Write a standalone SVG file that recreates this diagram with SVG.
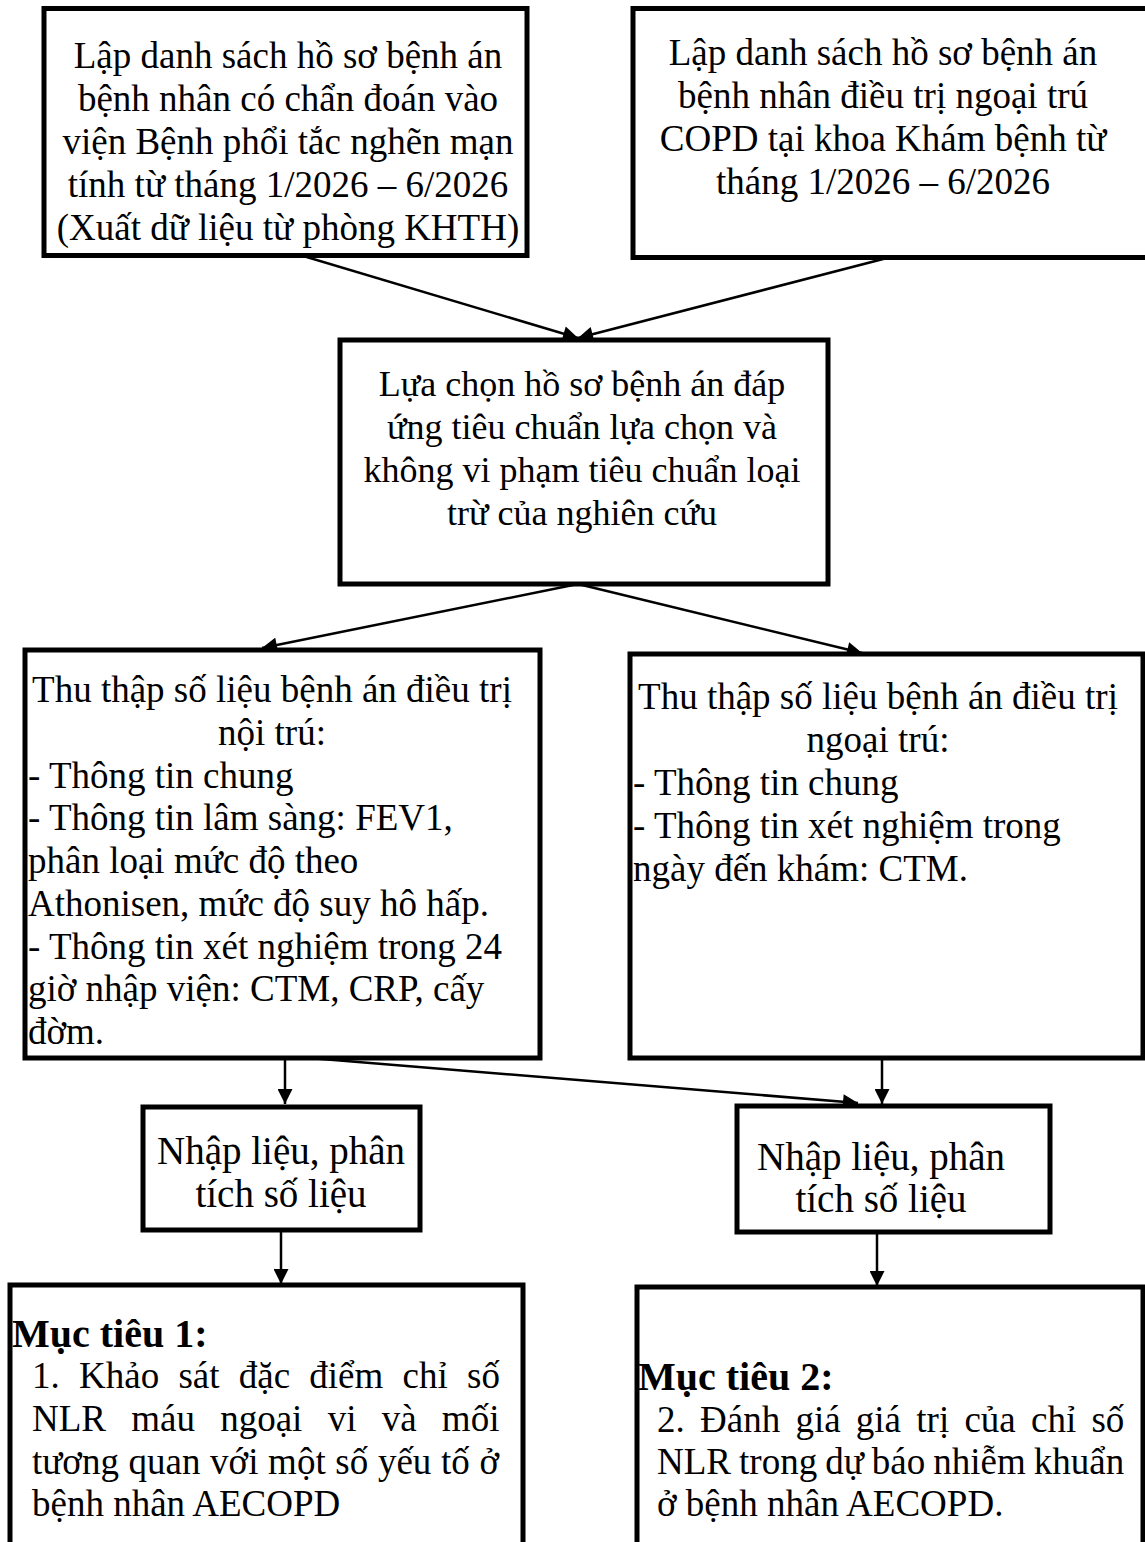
<svg xmlns="http://www.w3.org/2000/svg" width="1145" height="1542" viewBox="0 0 1145 1542">
<style>
.box{fill:#fff;stroke:#000;stroke-width:5}
.t{font-family:"Liberation Serif","Times New Roman",serif;font-size:37px;fill:#000}
.s36{font-size:36px}
.s39{font-size:39px}
.c{text-anchor:middle}
.b{font-weight:bold;font-size:40px}
.conn{stroke:#000;stroke-width:2.5;fill:none;marker-end:url(#ah)}
</style>
<defs>
<marker id="ah" viewBox="0 0 10 10" refX="10" refY="5" markerWidth="7" markerHeight="6" markerUnits="strokeWidth" orient="auto">
<path d="M0,0 L10,5 L0,10 Z" fill="#000"/>
</marker>
</defs>
<rect width="1145" height="1542" fill="#fff"/>
<g id="connectors">
<line class="conn" x1="300" y1="255" x2="578" y2="338"/>
<line class="conn" x1="887" y1="258" x2="578" y2="338"/>
<line class="conn" x1="578" y1="584" x2="262" y2="648"/>
<line class="conn" x1="578" y1="584" x2="862" y2="653"/>
<line class="conn" x1="285" y1="1058" x2="285" y2="1104"/>
<line class="conn" x1="285" y1="1056" x2="858" y2="1103"/>
<line class="conn" x1="882" y1="1058" x2="882" y2="1104"/>
<line class="conn" x1="281" y1="1230" x2="281" y2="1284"/>
<line class="conn" x1="877" y1="1232" x2="877" y2="1286"/>
</g>
<g id="n1">
<rect class="box" x="44" y="8.5" width="483" height="247"/>
<text class="t c" x="288" y="68">Lập danh sách hồ sơ bệnh án</text>
<text class="t c" x="288" y="111">bệnh nhân có chẩn đoán vào</text>
<text class="t c" x="288" y="154">viện Bệnh phổi tắc nghẽn mạn</text>
<text class="t c" x="288" y="197">tính từ tháng 1/2026 – 6/2026</text>
<text class="t c" x="288" y="240">(Xuất dữ liệu từ phòng KHTH)</text>
</g>
<g id="n2">
<rect class="box" x="633" y="8.5" width="520" height="249"/>
<text class="t c" x="883" y="65">Lập danh sách hồ sơ bệnh án</text>
<text class="t c" x="883" y="108">bệnh nhân điều trị ngoại trú</text>
<text class="t c" x="883" y="151">COPD tại khoa Khám bệnh từ</text>
<text class="t c" x="883" y="194">tháng 1/2026 – 6/2026</text>
</g>
<g id="n3">
<rect class="box" x="340" y="340" width="488" height="244"/>
<text class="t s36 c" x="582" y="396">Lựa chọn hồ sơ bệnh án đáp</text>
<text class="t s36 c" x="582" y="439">ứng tiêu chuẩn lựa chọn và</text>
<text class="t s36 c" x="582" y="482">không vi phạm tiêu chuẩn loại</text>
<text class="t s36 c" x="582" y="525">trừ của nghiên cứu</text>
</g>
<g id="n4">
<rect class="box" x="25" y="650" width="515" height="408"/>
<text class="t c" x="272" y="702">Thu thập số liệu bệnh án điều trị</text>
<text class="t c" x="272" y="744.75">nội trú:</text>
<text class="t" x="28" y="787.5">- Thông tin chung</text>
<text class="t" x="28" y="830.25">- Thông tin lâm sàng: FEV1,</text>
<text class="t" x="28" y="873">phân loại mức độ theo</text>
<text class="t" x="28" y="915.75">Athonisen, mức độ suy hô hấp.</text>
<text class="t" x="28" y="958.5">- Thông tin xét nghiệm trong 24</text>
<text class="t" x="28" y="1001.25">giờ nhập viện: CTM, CRP, cấy</text>
<text class="t" x="28" y="1044">đờm.</text>
</g>
<g id="n5">
<rect class="box" x="630" y="654" width="513" height="404"/>
<text class="t c" x="878" y="709">Thu thập số liệu bệnh án điều trị</text>
<text class="t c" x="878" y="752">ngoại trú:</text>
<text class="t" x="633" y="795">- Thông tin chung</text>
<text class="t" x="633" y="838">- Thông tin xét nghiệm trong</text>
<text class="t" x="633" y="881">ngày đến khám: CTM.</text>
</g>
<g id="n6">
<rect class="box" x="143" y="1107" width="277" height="123"/>
<text class="t s39 c" x="281" y="1164">Nhập liệu, phân</text>
<text class="t s39 c" x="281" y="1207">tích số liệu</text>
</g>
<g id="n7">
<rect class="box" x="737" y="1106" width="313" height="126"/>
<text class="t s39 c" x="881" y="1170">Nhập liệu, phân</text>
<text class="t s39 c" x="881" y="1212">tích số liệu</text>
</g>
<g id="n8">
<rect class="box" x="10" y="1285" width="513" height="290"/>
<text class="t b" x="12" y="1347">Mục tiêu 1:</text>
<text class="t" x="32" y="1388" word-spacing="10">1. Khảo sát đặc điểm chỉ số</text>
<text class="t" x="32" y="1431" word-spacing="16">NLR máu ngoại vi và mối</text>
<text class="t" x="32" y="1474" word-spacing="0.4">tương quan với một số yếu tố ở</text>
<text class="t" x="32" y="1516">bệnh nhân AECOPD</text>
</g>
<g id="n9">
<rect class="box" x="637" y="1287" width="506" height="290"/>
<text class="t b" x="638" y="1390">Mục tiêu 2:</text>
<text class="t" x="657" y="1432" word-spacing="6">2. Đánh giá giá trị của chỉ số</text>
<text class="t" x="657" y="1474" word-spacing="-1.2">NLR trong dự báo nhiễm khuẩn</text>
<text class="t" x="657" y="1516">ở bệnh nhân AECOPD.</text>
</g>
</svg>
